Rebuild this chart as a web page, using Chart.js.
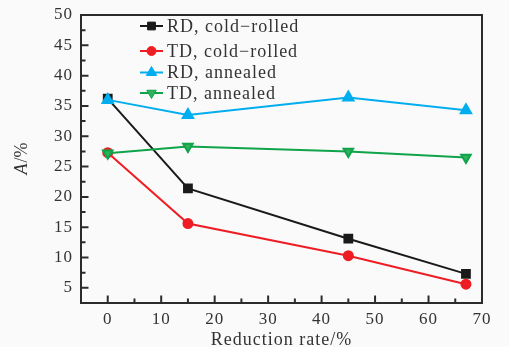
<!DOCTYPE html>
<html>
<head>
<meta charset="utf-8">
<script src="https://cdn.jsdelivr.net/npm/chart.js@4/dist/chart.umd.min.js"></script>
<style>
  html, body { margin: 0; padding: 0; background: #fafafa; }
  canvas { display: block; }
</style>
</head>
<body>
<canvas id="c" width="509" height="347"></canvas>
<script>
// data
const reduction = [0, 15, 45, 67];
const rdCold = [36.2, 21.4, 13.1, 7.3];
const tdCold = [27.3, 15.6, 10.3, 5.6];
const rdAnnealed = [36.0, 33.5, 36.4, 34.3];
const tdAnnealed = [27.2, 28.3, 27.5, 26.5];

const seriesNames = ['RD, cold\u2212rolled', 'TD, cold\u2212rolled', 'RD, annealed', 'TD, annealed'];

const xTicks = [0, 10, 20, 30, 40, 50, 60, 70];
const xMinor = [5, 15, 25, 35, 45, 55, 65];
const yTicks = [5, 10, 15, 20, 25, 30, 35, 40, 45, 50];
const yMinor = [7.5, 12.5, 17.5, 22.5, 27.5, 32.5, 37.5, 42.5, 47.5];

const serif = "'Liberation Serif', 'DejaVu Serif', serif";
const textColor = '#333';

function pts(ys) {
    return reduction.map((x, i) => ({ x: x, y: ys[i] }));
}

// legend row offsets from the top of the plot
const legendRows = [11, 36, 57.5, 78];

// frame, inward ticks, legend and y title
const framePlugin = {
    id: 'frame',
    beforeDraw(chart) {
        chart.ctx.letterSpacing = '1px';
    },
    afterDatasetsDraw(chart) {
        const ctx = chart.ctx;
        const a = chart.chartArea;
        const xs = chart.scales.x, ys = chart.scales.y;
        ctx.save();
        ctx.strokeStyle = '#2b2b2b';
        ctx.lineWidth = 2;
        ctx.strokeRect(a.left, a.top, a.right - a.left, a.bottom - a.top);
        ctx.beginPath();
        xTicks.forEach(v => { const p = xs.getPixelForValue(v); ctx.moveTo(p, a.bottom); ctx.lineTo(p, a.bottom - 7.5); });
        xMinor.forEach(v => { const p = xs.getPixelForValue(v); ctx.moveTo(p, a.bottom); ctx.lineTo(p, a.bottom - 4.5); });
        yTicks.forEach(v => { const p = ys.getPixelForValue(v); ctx.moveTo(a.left, p); ctx.lineTo(a.left + 7.5, p); });
        yMinor.forEach(v => { const p = ys.getPixelForValue(v); ctx.moveTo(a.left, p); ctx.lineTo(a.left + 4.5, p); });
        ctx.stroke();

        // legend
        const lx = a.left + 59;
        chart.data.datasets.forEach((ds, i) => {
            const y = a.top + legendRows[i];
            ctx.strokeStyle = ds.borderColor;
            ctx.lineWidth = ds.borderWidth;
            ctx.beginPath();
            ctx.moveTo(lx, y);
            ctx.lineTo(lx + 23, y);
            ctx.stroke();
            ctx.fillStyle = ds.pointBackgroundColor;
            ctx.strokeStyle = ds.borderColor;
            ctx.lineWidth = 1;
            Chart.helpers.drawPoint(ctx, {
                pointStyle: ds.pointStyle,
                radius: ds.pointRadius,
                rotation: ds.pointRotation || 0,
                borderWidth: 1
            }, lx + 11.5, y);
            ctx.fillStyle = textColor;
            ctx.font = '18px ' + serif;
            ctx.letterSpacing = '1px';
            ctx.textBaseline = 'middle';
            ctx.textAlign = 'left';
            ctx.fillText(ds.label, lx + 27, y + 1);
        });

        // y title, italic A
        ctx.letterSpacing = '0px';
        ctx.translate(22, (a.top + a.bottom) / 2);
        ctx.rotate(-Math.PI / 2);
        ctx.textBaseline = 'middle';
        ctx.fillStyle = textColor;
        ctx.font = 'italic 18px ' + serif;
        const wA = ctx.measureText('A').width;
        ctx.font = '18px ' + serif;
        const wR = ctx.measureText('/%').width;
        let x0 = -(wA + wR) / 2;
        ctx.font = 'italic 18px ' + serif;
        ctx.fillText('A', x0, 0);
        ctx.font = '18px ' + serif;
        ctx.fillText('/%', x0 + wA + 1, 0);
        ctx.restore();
    }
};

new Chart(document.getElementById('c'), {
    type: 'line',
    data: {
        datasets: [
            { label: seriesNames[0], data: pts(rdCold), borderColor: '#1a1a1a', pointBackgroundColor: '#1a1a1a',
              pointStyle: 'rect', pointRadius: 5.5, borderWidth: 2, order: 4 },
            { label: seriesNames[1], data: pts(tdCold), borderColor: '#ee1d23', pointBackgroundColor: '#ee1d23',
              pointStyle: 'circle', pointRadius: 4.5, borderWidth: 2, order: 3 },
            { label: seriesNames[2], data: pts(rdAnnealed), borderColor: '#00aeef', pointBackgroundColor: '#00aeef',
              pointStyle: 'triangle', pointRadius: 6, borderWidth: 2, order: 2 },
            { label: seriesNames[3], data: pts(tdAnnealed), borderColor: '#0fa34a', pointBackgroundColor: '#2fb35c',
              pointStyle: 'triangle', pointRotation: 180, pointRadius: 5.5, borderWidth: 2, order: 1 }
        ]
    },
    options: {
        responsive: false,
        animation: false,
        devicePixelRatio: 1,
        layout: { padding: { top: 15, right: 27, left: 0, bottom: 0 } },
        plugins: { legend: { display: false }, tooltip: { enabled: false } },
        elements: { line: { tension: 0 }, point: { borderWidth: 1 } },
        scales: {
            x: {
                type: 'linear',
                min: -5,
                max: 70,
                afterBuildTicks: s => { s.ticks = xTicks.map(v => ({ value: v })); },
                afterFit: s => { s.height = 44; s.paddingLeft = 0; s.paddingRight = 0; },
                grid: { display: false, drawTicks: false },
                border: { display: false },
                ticks: { color: textColor, font: { family: serif, size: 17 }, padding: 6, maxRotation: 0 },
                title: { display: true, text: 'Reduction rate/%', color: textColor,
                         font: { family: serif, size: 18, lineHeight: 0.8 }, padding: 0 }
            },
            y: {
                min: 2.5,
                max: 50,
                afterBuildTicks: s => { s.ticks = yTicks.map(v => ({ value: v })); },
                afterFit: s => { s.width = 81; s.paddingTop = 0; s.paddingBottom = 0; },
                grid: { display: false, drawTicks: false },
                border: { display: false },
                ticks: { color: textColor, font: { family: serif, size: 17 }, padding: 8 }
            }
        }
    },
    plugins: [framePlugin]
});
</script>
</body>
</html>
